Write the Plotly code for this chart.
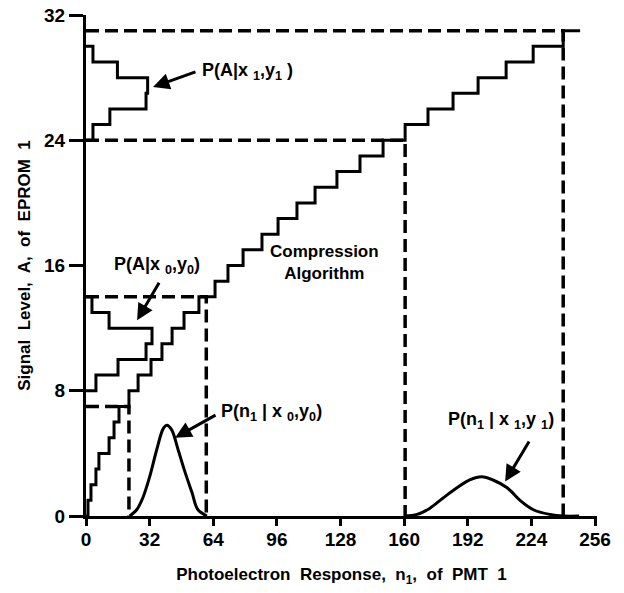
import plotly.graph_objects as go

# compression staircase: n1 where each signal level A = 0..31 begins
stair_levels = list(range(0, 32))
stair_starts = [0, 1.0, 2.5, 5.0, 6.5, 11.6, 14.1, 16.6, 21.6, 26.2, 32.7,
                38.2, 43.3, 49.3, 56.8, 64.9, 71.4, 79.0, 88.5, 96.6, 106.1,
                115.2, 126.2, 137.8, 149.4, 160.5, 172.0, 184.6, 197.2,
                211.3, 224.9, 240.0]
stair_end = 248.5

# P(A | x1,y1) histogram (bar lower edge, bar length), top to bottom
hist1_levels = [29, 28, 27, 26, 25, 24]
hist1_widths = [3.5, 15.8, 31.0, 30.2, 12.0, 3.5]

# P(A | x0,y0) histogram
hist0_levels = [13, 12, 11, 10, 9, 8]
hist0_widths = [3.0, 11.6, 33.2, 30.2, 16.1, 5.0]

# P(n1 | x0,y0) curve
pdf0_n = [22.0, 25.5, 28.7, 32.0, 35.5, 38.9, 40.7, 43.1, 46.4, 49.8, 53.3, 56.3, 60.8]
pdf0_p = [0.0, 0.4, 1.2, 2.5, 4.2, 5.6, 5.8, 5.5, 4.2, 2.8, 1.5, 0.4, 0.0]

# P(n1 | x1,y1) curve
pdf1_n = [160.5, 166.5, 173.0, 179.6, 186.6, 193.0, 199.0, 204.7, 211.8, 218.3, 225.0, 233.4, 240.0, 248.0]
pdf1_p = [0.0, 0.1, 0.5, 1.15, 1.8, 2.3, 2.5, 2.3, 1.8, 1.0, 0.4, 0.1, 0.0, 0.0]

# dashed windows (n1 edge, A level)
win_n = [21.6, 60.5, 160.5, 240.0]
win_a = [7, 14, 24, 31]

x_ticks = [0, 32, 64, 96, 128, 160, 192, 224, 256]
y_ticks = [0, 8, 16, 24, 32]

FONT = "Liberation Sans, Arial, sans-serif"
line = dict(color="black", width=3)

fig = go.Figure()

for n, a in zip(win_n, win_a):
    fig.add_trace(go.Scatter(
        x=[0, n, n], y=[a, a, 0], mode="lines",
        line=dict(color="black", width=3.5, dash="13px,6px"),
    ))

fig.add_trace(go.Scatter(
    x=stair_starts + [stair_end], y=stair_levels + [stair_levels[-1]],
    mode="lines", line=dict(line, shape="hv"),
))

for levels, widths in [(hist1_levels, hist1_widths), (hist0_levels, hist0_widths)]:
    fig.add_trace(go.Scatter(
        x=[0] + widths + [0], y=[levels[0] + 1] + levels + [levels[-1]],
        mode="lines", line=dict(line, shape="hv"),
    ))

fig.add_trace(go.Scatter(x=pdf0_n, y=pdf0_p, mode="lines", line=dict(line, shape="spline")))
fig.add_trace(go.Scatter(x=pdf1_n, y=pdf1_p, mode="lines", line=dict(line, shape="spline")))

labels = [
    ("P(A<b>|</b>x <sub>1</sub>,y<sub>1</sub> )", 57.3, 28.4, 33.7, 27.4, 55.8, 28.4),
    ("P(A<b>|</b>x <sub>0</sub>,y<sub>0</sub>)", 13.1, 16.0, 25.7, 12.5, 37.2, 15.0),
    ("P(n<sub>1</sub> | x <sub>0</sub>,y<sub>0</sub>)", 66.9, 6.6, 44.8, 5.0, 65.9, 6.5),
    ("P(n<sub>1</sub> | x <sub>1</sub>,y <sub>1</sub>)", 181.0, 6.1, 210.8, 2.2, 223.3, 4.85),
]
for text, tx, ty, hx, hy, bx, by in labels:
    fig.add_annotation(x=hx, y=hy, ax=bx, ay=by, xref="x", yref="y",
                       axref="x", ayref="y", text="", showarrow=True,
                       arrowhead=2, arrowsize=1.1, arrowwidth=3, arrowcolor="black")
    fig.add_annotation(x=tx, y=ty, xref="x", yref="y", text=text, showarrow=False,
                       xanchor="left", yanchor="middle",
                       font=dict(family=FONT, size=18, color="black", weight="bold"))

fig.add_annotation(x=120, y=16.2, xref="x", yref="y", text="Compression<br>Algorithm",
                   showarrow=False, font=dict(family=FONT, size=17, color="black", weight="bold"))

fig.update_layout(
    width=624, height=593,
    margin=dict(l=86, r=27, t=15, b=77),
    paper_bgcolor="white", plot_bgcolor="white",
    showlegend=False,
    font=dict(family=FONT, color="black"),
)
fig.update_xaxes(
    range=[0, 257], tickvals=x_ticks, showgrid=False, zeroline=False,
    showline=True, linecolor="black", linewidth=3, automargin=False,
    ticks="outside", ticklen=7, tickwidth=3, tickcolor="black",
    ticklabelstandoff=-3,
    tickfont=dict(family=FONT, size=19, color="black", weight="bold"),
    title=dict(text="Photoelectron\u00a0 Response,\u00a0 n<sub>1</sub>,\u00a0 of\u00a0 PMT\u00a0 1",
               standoff=20, font=dict(family=FONT, size=17, color="black", weight="bold")),
)
fig.update_yaxes(
    range=[0, 32], tickvals=y_ticks, showgrid=False, zeroline=False,
    showline=True, linecolor="black", linewidth=3, automargin=False,
    ticks="outside", ticklen=14, tickwidth=3, tickcolor="black",
    ticklabeloverflow="allow",
    tickfont=dict(family=FONT, size=19, color="black", weight="bold"),
    title=dict(text="Signal\u00a0 Level,\u00a0 A,\u00a0 of\u00a0 EPROM\u00a0 1",
               standoff=10, font=dict(family=FONT, size=17, color="black", weight="bold")),
)

# drop the page's default 8px body margin so the figure sits at the corner
fig.write_html("out.html", config={"displayModeBar": False},
               post_script="document.body.style.margin = '0';")
